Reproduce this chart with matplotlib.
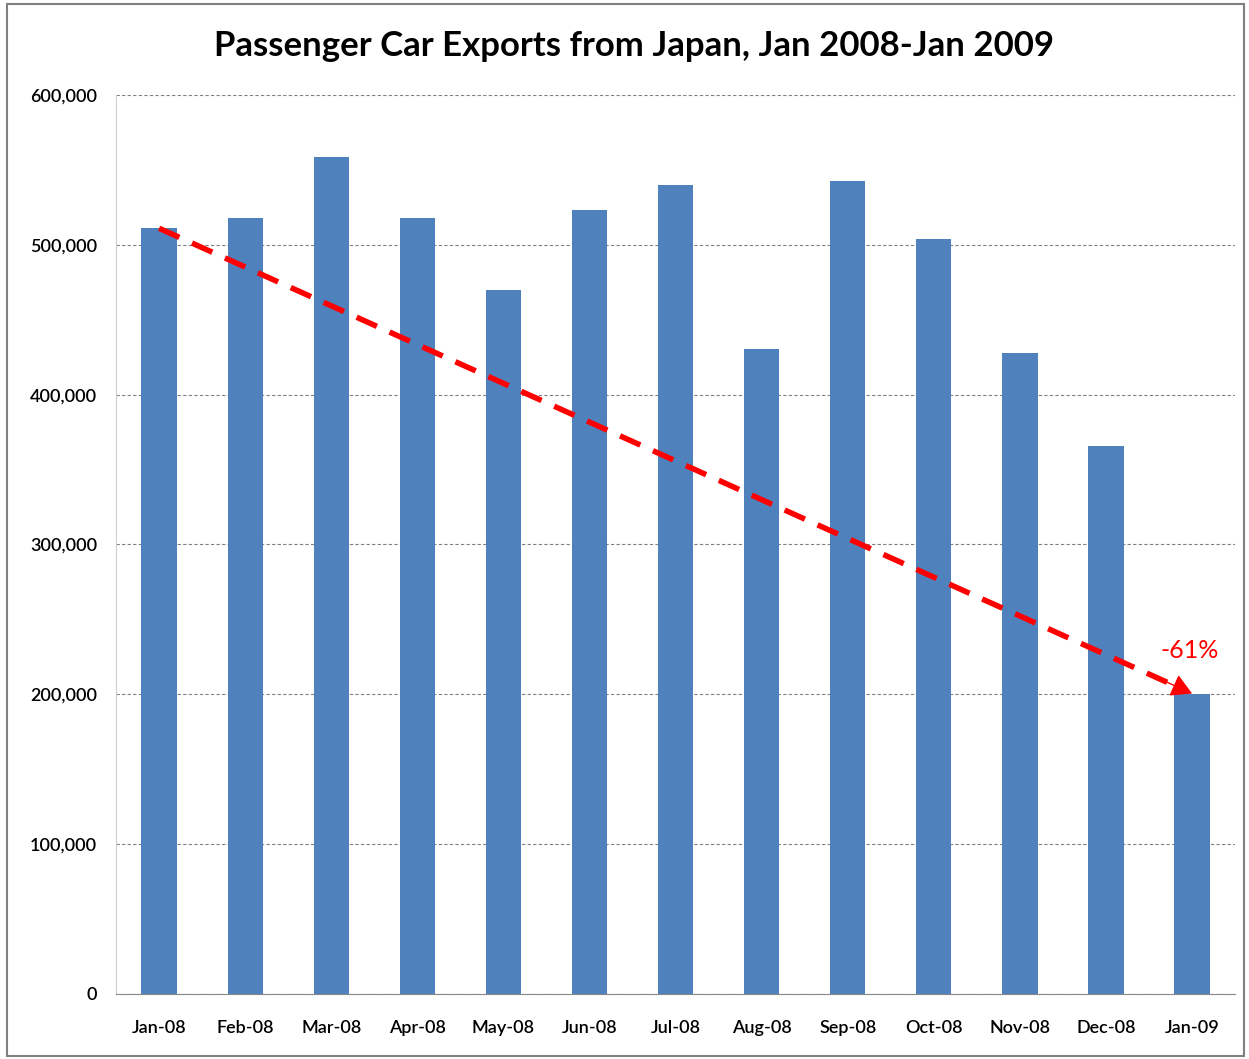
import numpy as np
import matplotlib.pyplot as plt
from matplotlib.ticker import FuncFormatter

months = ['Jan-08', 'Feb-08', 'Mar-08', 'Apr-08', 'May-08', 'Jun-08', 'Jul-08',
          'Aug-08', 'Sep-08', 'Oct-08', 'Nov-08', 'Dec-08', 'Jan-09']
exports = [511000, 518000, 558500, 518000, 470000, 523500, 540000,
           430500, 542500, 504000, 428000, 366000, 200500]
yticks = [0, 100000, 200000, 300000, 400000, 500000, 600000]

plt.rcParams['font.family'] = ['Lato', 'DejaVu Sans']

fig = plt.figure(figsize=(12.49, 10.59), dpi=100)
ax = fig.add_axes([0.0929, 0.0614, 0.896, 0.849])

x = np.arange(len(months))
ax.bar(x, exports, width=0.41, color='#4F81BD', zorder=3)

ax.set_xlim(-0.5, len(months) - 0.5)
ax.set_ylim(0, 600000)
ax.set_yticks(yticks)
ax.yaxis.set_major_formatter(FuncFormatter(lambda v, p: '{:,.0f}'.format(v)))
ax.set_xticks(x)
ax.set_xticklabels(months)
ax.grid(axis='y', linestyle=(0, (3, 2)), color='#808080', linewidth=0.8, zorder=0)

for s in ['top', 'right']:
    ax.spines[s].set_visible(False)
ax.spines['left'].set_color('#D0D0D0')
ax.spines['bottom'].set_color('#888888')
ax.tick_params(axis='both', length=0, labelsize=13)
ax.tick_params(axis='x', pad=19)
ax.tick_params(axis='y', pad=13.5)
for lab in ax.get_xticklabels() + ax.get_yticklabels():
    lab.set_fontweight('semibold')

# trend line from first to last month
t_end = 11.8
y_end = exports[0] + (exports[-1] - exports[0]) * t_end / x[-1]
ax.plot([x[0], t_end], [exports[0], y_end], color='red',
        linewidth=4, linestyle=(0, (4, 2.5)), zorder=4)
t_h = 11.7
y_h = exports[0] + (exports[-1] - exports[0]) * t_h / x[-1]
ax.annotate('', xy=(x[-1], exports[-1]), xytext=(t_h, y_h),
            arrowprops=dict(arrowstyle='-|>,head_length=0.8,head_width=0.45', color='red',
                            lw=1, shrinkA=0, shrinkB=0, mutation_scale=16),
            zorder=5)
pct = (exports[-1] - exports[0]) / exports[0] * 100
ax.text(x[-1] - 0.03, 229000, '{:.0f}%'.format(pct), color='red', fontsize=18,
        ha='center', va='center', zorder=5)

fig.text(0.508, 0.957, 'Passenger Car Exports from Japan, Jan 2008-Jan 2009',
         ha='center', va='center', fontsize=25, fontweight='bold')

fig.patches.append(plt.Rectangle((0.006, 0.003), 0.99, 0.993, transform=fig.transFigure,
                                 fill=False, edgecolor='#808080', linewidth=1.5))

fig.savefig('out.png', dpi=100)
